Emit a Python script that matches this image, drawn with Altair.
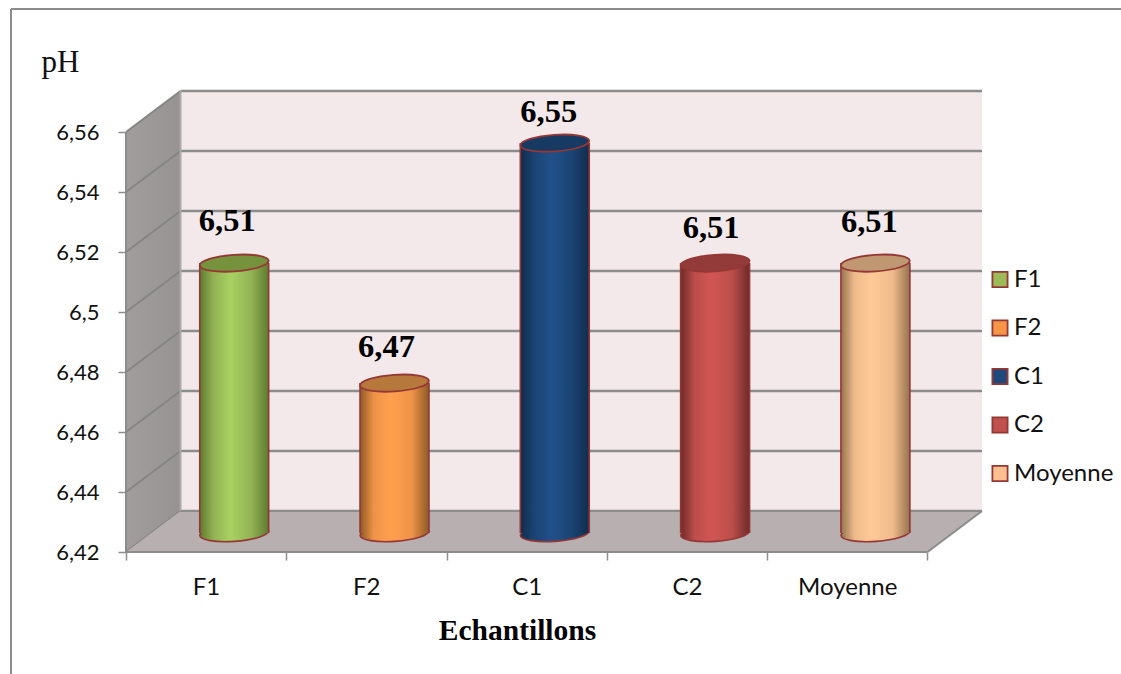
import math
import altair as alt
import pandas as pd

# Sample means
categories = ["F1", "F2", "C1", "C2", "Moyenne"]
values = [6.51, 6.47, 6.55, 6.51, 6.51]

# Value axis ticks
y_ticks = [6.42, 6.44, 6.46, 6.48, 6.50, 6.52, 6.54, 6.56]

# Cylinder shading: edge, shoulder, highlight, and the darker top cap
edge_colors = ["#5f7a30", "#8f5a26", "#122c4b", "#6e2a29", "#94734f"]
mid_colors = ["#93b254", "#ee9347", "#1b4474", "#bb4d4a", "#f0bb8c"]
light_colors = ["#a8d162", "#ffa04e", "#21508a", "#d15653", "#ffca97"]
cap_colors = ["#76923c", "#b7783c", "#173a63", "#933b39", "#bf9770"]
legend_colors = ["#9bbb59", "#f79646", "#1f497d", "#c0504d", "#fac090"]

# Room taken by the oblique depth of the 3-D box, in axis units
DEPTH_X = 0.34
DEPTH_Y = 0.01367
BAR_SHIFT_X = 0.175
BAR_SHIFT_Y = 0.0063
BAR_HALF = 0.215
BASE = y_ticks[0]
TOP = y_ticks[-1]
N = len(categories)

GRID = "#8c8c8c"
OUTLINE = "#953735"

x_scale = alt.Scale(domain=[0, N + DEPTH_X], nice=False, zero=False)
y_scale = alt.Scale(domain=[BASE, TOP + DEPTH_Y], nice=False, zero=False)


def X(field="x", axis=alt.Undefined):
    return alt.X(f"{field}:Q", scale=x_scale, axis=axis)


def Y(field="y", axis=alt.Undefined):
    return alt.Y(f"{field}:Q", scale=y_scale, axis=axis, stack=None)


def ellipse_path(semi_minor=0.24, tilt_deg=-4.0):
    """Tilted ellipse as cubic segments, unit half-width, for a point symbol."""
    k = 0.5523
    t = math.radians(tilt_deg)
    c, s = math.cos(t), math.sin(t)

    def p(u, v):
        return f"{u * c - v * s:.4f},{u * s + v * c:.4f}"

    b = semi_minor
    return (
        f"M{p(-1, 0)}"
        f"C{p(-1, -k * b)} {p(-k, -b)} {p(0, -b)}"
        f"C{p(k, -b)} {p(1, -k * b)} {p(1, 0)}"
        f"C{p(1, k * b)} {p(k, b)} {p(0, b)}"
        f"C{p(-k, b)} {p(-1, k * b)} {p(-1, 0)}Z"
    )


def shading(i):
    return alt.LinearGradient(
        gradient="linear",
        x1=0, x2=1, y1=0, y2=0,
        stops=[
            alt.GradientStop(offset=0.0, color=edge_colors[i]),
            alt.GradientStop(offset=0.2, color=mid_colors[i]),
            alt.GradientStop(offset=0.45, color=light_colors[i]),
            alt.GradientStop(offset=0.75, color=mid_colors[i]),
            alt.GradientStop(offset=1.0, color=edge_colors[i]),
        ],
    )


y_axis = alt.Axis(
    values=y_ticks,
    labelExpr="replace(format(datum.value, '.2~f'), '.', ',')",
    labelFont="Lato",
    labelFontSize=22,
    labelColor="#111111",
    labelPadding=19,
    tickColor=GRID,
    tickWidth=1.5,
    tickSize=8,
    domain=False,
    grid=False,
    title="pH",
    titleFont="Liberation Serif",
    titleFontSize=31,
    titleFontWeight="normal",
    titleColor="#111111",
    titleAngle=0,
    titleX=-66,
    titleY=-29,
    titleAlign="center",
    titleBaseline="middle",
)

x_axis = alt.Axis(
    values=list(range(N + 1)),
    labelExpr="['F1','F2','C1','C2','Moyenne',''][datum.value]",
    labelFont="Lato",
    labelFontSize=24,
    labelColor="#111111",
    labelOffset=80,
    labelPadding=15,
    labelAlign="center",
    labelOverlap=False,
    labelFlush=False,
    tickColor=GRID,
    tickWidth=1.5,
    tickSize=8,
    domain=False,
    grid=False,
    title="Echantillons",
    titleFont="Liberation Serif",
    titleFontSize=29.5,
    titleFontWeight="bold",
    titleColor="#000000",
    titleX=391,
    titleY=78,
    titleAlign="center",
    titleBaseline="middle",
)

# Back wall, side wall and floor of the box
back_wall = pd.DataFrame({
    "x": [DEPTH_X, N + DEPTH_X],
    "y": [BASE + DEPTH_Y, BASE + DEPTH_Y],
    "y2": [TOP + DEPTH_Y, TOP + DEPTH_Y],
})
side_wall = pd.DataFrame({
    "x": [0, DEPTH_X],
    "y": [BASE, BASE + DEPTH_Y],
    "y2": [TOP, TOP + DEPTH_Y],
})
floor = pd.DataFrame({
    "x": [0, DEPTH_X, N, N + DEPTH_X],
    "y": [BASE, BASE, BASE, BASE + DEPTH_Y],
    "y2": [BASE, BASE + DEPTH_Y, BASE + DEPTH_Y, BASE + DEPTH_Y],
})

walls = [
    alt.Chart(back_wall).mark_area(color="#f4e9ea").encode(
        x=X(axis=x_axis), y=Y(axis=y_axis), y2="y2:Q"
    ),
    alt.Chart(side_wall).mark_area(
        color=alt.LinearGradient(
            gradient="linear", x1=0, x2=1, y1=0, y2=0,
            stops=[
                alt.GradientStop(offset=0, color="#a19d9d"),
                alt.GradientStop(offset=1, color="#979393"),
            ],
        )
    ).encode(x=X(), y=Y(), y2="y2:Q"),
]

# Grid lines: one across the back wall, one slanting up the side wall
grid_back = pd.DataFrame({"y": [t + DEPTH_Y for t in y_ticks]})
grid_back["x"] = DEPTH_X
grid_back["x2"] = N + DEPTH_X
grid_lines = alt.Chart(grid_back).mark_rule(color=GRID, strokeWidth=2.6).encode(
    x=X(), x2="x2:Q", y=Y()
)
slants = pd.DataFrame(
    [{"tick": t, "x": 0, "y": t} for t in y_ticks]
    + [{"tick": t, "x": DEPTH_X, "y": t + DEPTH_Y} for t in y_ticks]
)
slant_lines = alt.Chart(slants).mark_line(color="#858585", strokeWidth=2).encode(
    x=X(), y=Y(), detail="tick:N", order="x:Q"
)
wall_edge = alt.Chart(pd.DataFrame({
    "x": [DEPTH_X], "y": [BASE + DEPTH_Y], "y2": [TOP + DEPTH_Y]
})).mark_rule(color="#a9a9a9", strokeWidth=2).encode(x=X(), y=Y(), y2="y2:Q")

floor_layer = alt.Chart(floor).mark_area(color="#b8afb0").encode(
    x=X(), y=Y(), y2="y2:Q"
)
floor_edges = alt.Chart(pd.DataFrame({
    "edge": ["back", "back", "right", "right"],
    "x": [DEPTH_X, N + DEPTH_X, N, N + DEPTH_X],
    "y": [BASE + DEPTH_Y, BASE + DEPTH_Y, BASE, BASE + DEPTH_Y],
})).mark_line(color=GRID, strokeWidth=2).encode(
    x=X(), y=Y(), detail="edge:N", order="x:Q"
)

# Front axis lines
axis_x = alt.Chart(pd.DataFrame({"x": [0], "x2": [N], "y": [BASE]})).mark_rule(
    color=GRID, strokeWidth=2
).encode(x=X(), x2="x2:Q", y=Y())
axis_y = alt.Chart(pd.DataFrame({"x": [0], "y": [BASE], "y2": [TOP]})).mark_rule(
    color=GRID, strokeWidth=2
).encode(x=X(), y=Y(), y2="y2:Q")

# Cylinders, each with its value label
label_nudges = {
    "F1": (-7, -42), "F2": (-8, -36), "C1": (-6, -31), "C2": (-4, -35), "Moyenne": (-6, -41),
}
path = ellipse_path()
SYMBOL_SIZE = (2 * 34.5) ** 2

cylinders = []
for i, (name, value) in enumerate(zip(categories, values)):
    mid = i + 0.5 + BAR_SHIFT_X
    bar = pd.DataFrame({
        "x": [mid - BAR_HALF], "x2": [mid + BAR_HALF], "cx": [mid],
        "y": [BASE + BAR_SHIFT_Y], "y2": [value + BAR_SHIFT_Y],
        "label": [f"{value:.2f}".replace(".", ",")],
    })
    base = alt.Chart(bar)
    cylinders += [
        base.mark_point(
            shape=path, size=SYMBOL_SIZE, filled=True, fill=shading(i),
            stroke=OUTLINE, strokeWidth=1.6, opacity=1,
        ).encode(x=X("cx"), y=Y("y")),
        base.mark_rect(fill=shading(i)).encode(x=X("x"), x2="x2:Q", y=Y("y"), y2="y2:Q"),
        base.mark_rule(color=OUTLINE, strokeWidth=1.6).encode(x=X("x"), y=Y("y"), y2="y2:Q"),
        base.mark_rule(color=OUTLINE, strokeWidth=1.6).encode(x=X("x2"), y=Y("y"), y2="y2:Q"),
        base.mark_point(
            shape=path, size=SYMBOL_SIZE, filled=True, fill=cap_colors[i],
            stroke=OUTLINE, strokeWidth=1.8, opacity=1,
        ).encode(x=X("cx"), y=Y("y2")),
        base.mark_text(
            font="Liberation Serif", fontSize=32.5, fontWeight="bold", color="#000000",
            baseline="middle", dx=label_nudges[name][0], dy=label_nudges[name][1],
        ).encode(x=X("cx"), y=Y("y2"), text="label:N"),
    ]

# Zero-sized points that carry the colour legend
legend_layer = alt.Chart(pd.DataFrame({
    "serie": categories, "x": [0] * N, "y": [BASE] * N
})).mark_square(size=0).encode(
    x=X(), y=Y(),
    color=alt.Color(
        "serie:N",
        scale=alt.Scale(domain=categories, range=legend_colors),
        legend=alt.Legend(
            title=None,
            orient="none",
            legendX=862,
            legendY=176.5,
            symbolType="square",
            symbolSize=230,
            symbolOpacity=1,
            symbolStrokeColor=OUTLINE,
            symbolStrokeWidth=1.8,
            labelFont="Lato",
            labelFontSize=24,
            labelColor="#111111",
            labelOffset=2,
            rowPadding=24.5,
        ),
    ),
)

# Frame around the chart, open at the bottom and on the right
frame = [
    alt.Chart(pd.DataFrame({"k": [0]})).mark_rule(color="#8c8c8c", strokeWidth=2).encode(
        x=alt.value(-115), y=alt.value(-82), y2=alt.value(583)
    ),
    alt.Chart(pd.DataFrame({"k": [0]})).mark_rule(color="#8c8c8c", strokeWidth=2).encode(
        x=alt.value(-115), x2=alt.value(995), y=alt.value(-82)
    ),
]

chart = alt.layer(
    *walls, grid_lines, slant_lines, wall_edge, floor_layer, floor_edges,
    axis_x, axis_y, *cylinders, legend_layer, *frame,
).properties(
    width=856,
    height=461,
    padding={"left": 126, "top": 91, "right": 139, "bottom": 122},
    autosize=alt.AutoSizeParams(type="none"),
    background="#ffffff",
).configure_view(stroke=None)

chart.save("out.html", embed_options={"renderer": "svg", "actions": False})
